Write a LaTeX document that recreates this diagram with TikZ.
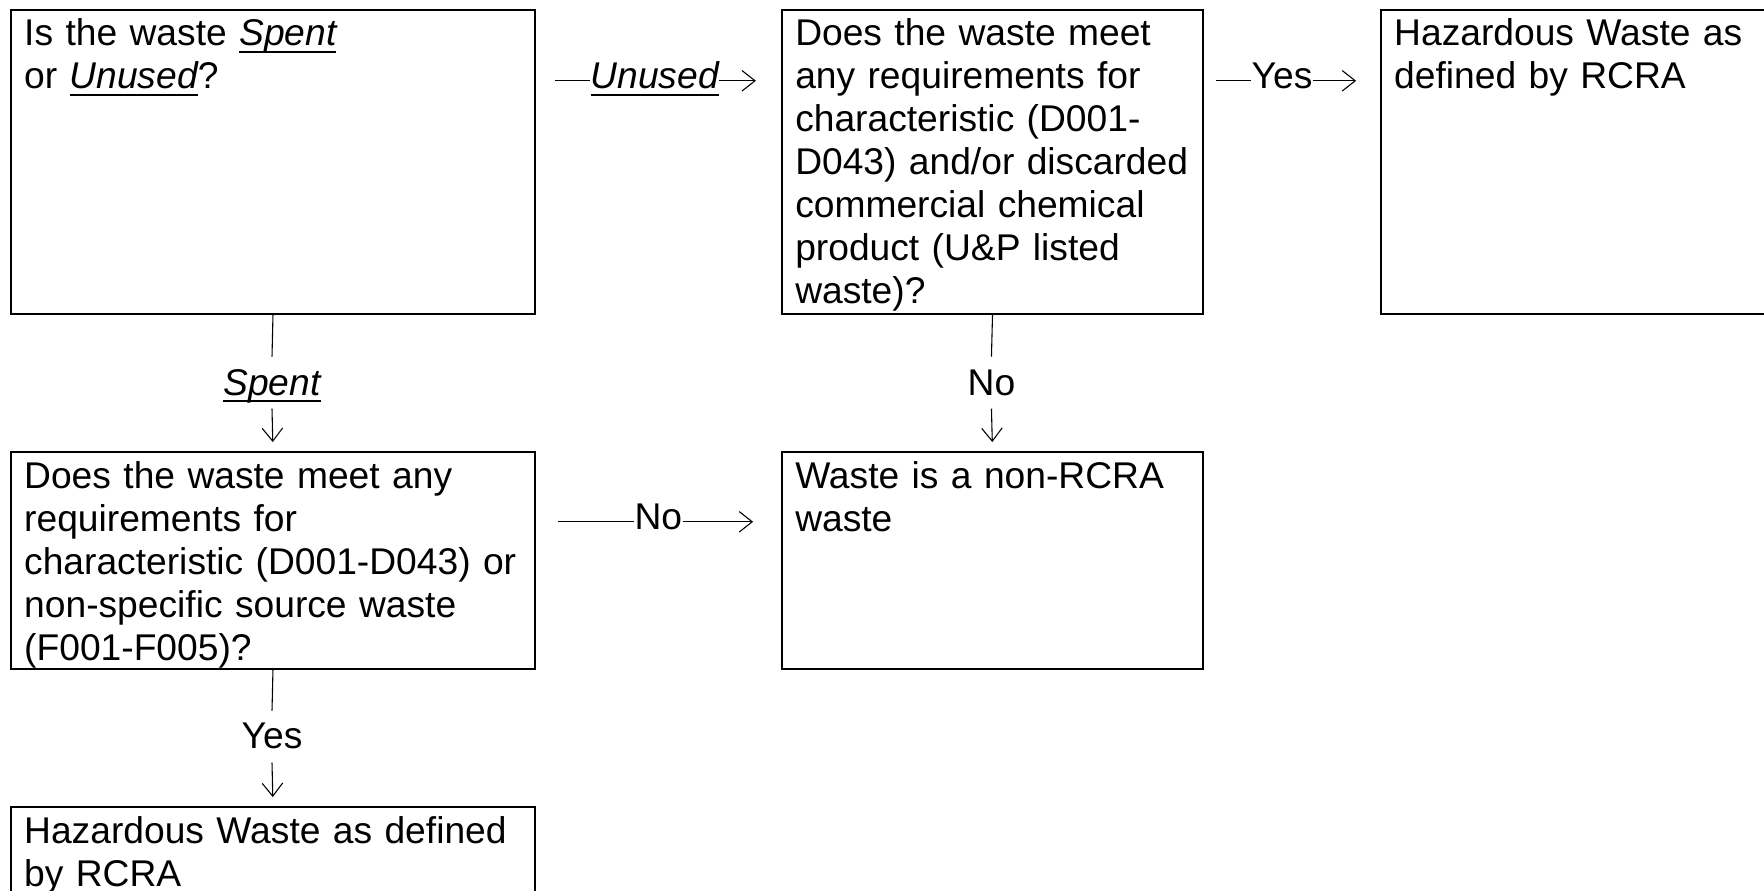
\documentclass[tikz,border=0pt]{standalone}
\usepackage{fontspec}
\setmainfont{Liberation Sans}
\usepackage{tikz}
\usetikzlibrary{arrows.meta}

% underlined italic word
\newcommand{\ulit}[1]{\setbox0=\hbox{\itshape #1}\rlap{\rule[-2.2pt]{\wd0}{0.65pt}}\box0}

\begin{document}
\begin{tikzpicture}[
	every node/.style={font=\fontsize{12pt}{13.87pt}\selectfont},
	box/.style={draw, line width=0.65pt, anchor=north west, align=left,
		inner xsep=0.15cm, inner ysep=0pt, text height=0.408cm},
	hlbl/.style={inner sep=0pt, anchor=base west},
	vlbl/.style={inner sep=0pt, anchor=base, text height=12.2pt, text depth=4.2pt},
	con/.style={line width=0.35pt},
	arr/.style={-{Straight Barb[length=4.2pt,width=6.6pt]}}
	]
		\useasboundingbox (0,0) rectangle (20,10.091);
		\clip (0,0) rectangle (20,10.091);
		
		% draw boxes
		\node[box, text width=5.641cm, text depth=3.039cm] (qa) at (0.113,9.989) {Is the waste \ulit{Spent}\\or \ulit{Unused}?};
		\node[box, text width=4.473cm, text depth=3.039cm] (qb) at (8.855,9.989) {Does the waste meet\\any requirements for\\characteristic (D001-\\\mbox{D043) and/or discarded}\\commercial chemical\\product (U\&P listed\\waste)?};
		\node[box, text width=4.473cm, text depth=3.039cm] (qc) at (15.646,9.989) {Hazardous Waste as\\defined by RCRA};
		\node[box, text width=5.641cm, text depth=2.052cm] (qd) at (0.113,4.977) {Does the waste meet any\\requirements for\\characteristic (D001-D043) or\\non-specific source waste\\(F001-F005)?};
		\node[box, text width=4.473cm, text depth=2.052cm] (qe) at (8.855,4.977) {Waste is a non-RCRA\\waste};
		\node[box, text width=5.641cm, text depth=2.052cm] (qf) at (0.113,0.952) {Hazardous Waste as defined\\by RCRA};
		
		% draw labels
		\node[hlbl] (lu) at (6.689,9.082) {\ulit{Unused}};
		\node[hlbl] (ly) at (14.184,9.082) {Yes};
		\node[hlbl] (ln) at (7.188,4.082) {No};
		\node[vlbl] (ls) at (3.084,5.612) {\ulit{Spent}};
		\node[vlbl] (lv) at (11.241,5.612) {No};
		\node[vlbl] (lw) at (3.084,1.599) {Yes};
		
		% draw horizontal arrows
		\draw[con, shorten <=6.1pt] (qa.east |- lu.mid) -- (lu.mid west);
		\draw[con, arr, shorten >=8.1pt] (lu.mid east) -- (qb.west |- lu.mid);
		\draw[con, shorten <=3.9pt] (qb.east |- ly.mid) -- (ly.mid west);
		\draw[con, arr, shorten >=7.7pt] (ly.mid east) -- (qc.west |- ly.mid);
		\draw[con, shorten <=7.1pt] (qd.east |- ln.mid) -- (ln.mid west);
		\draw[con, arr, shorten >=9pt] (ln.mid east) -- (qe.west |- ln.mid);
		
		% draw vertical arrows
		\draw[con] (qa.south) -- (ls.north);
		\draw[con, arr, shorten >=2.9pt] (ls.south) -- (qd.north);
		\draw[con] (qb.south) -- (lv.north);
		\draw[con, arr, shorten >=2.9pt] (lv.south) -- (qe.north);
		\draw[con] (qd.south) -- (lw.north);
		\draw[con, arr, shorten >=2.9pt] (lw.south) -- (qf.north);
		
\end{tikzpicture}
\end{document}
